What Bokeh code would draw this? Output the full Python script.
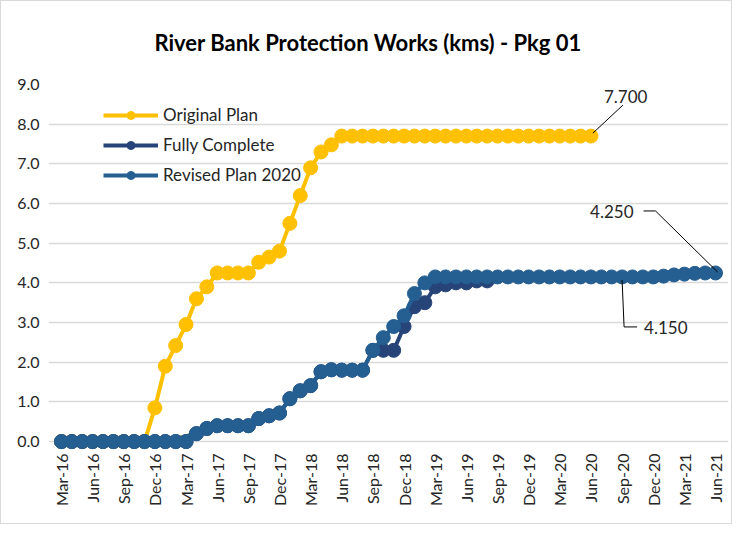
import math
from bokeh.plotting import figure
from bokeh.models import FixedTicker, Label, Range1d, Legend, LegendItem
from bokeh.embed import file_html
from bokeh.resources import INLINE

# ---------------- data ----------------
tick_positions = [0, 3, 6, 9, 12, 15, 18, 21, 24, 27, 30, 33, 36, 39, 42, 45, 48, 51, 54, 57, 60, 63]
tick_labels = ["Mar-16", "Jun-16", "Sep-16", "Dec-16", "Mar-17", "Jun-17", "Sep-17", "Dec-17",
               "Mar-18", "Jun-18", "Sep-18", "Dec-18", "Mar-19", "Jun-19", "Sep-19", "Dec-19",
               "Mar-20", "Jun-20", "Sep-20", "Dec-20", "Mar-21", "Jun-21"]

original_plan = [0, 0, 0, 0, 0, 0, 0, 0, 0,
                 0.85, 1.9, 2.42, 2.95, 3.6, 3.9, 4.25, 4.25, 4.25, 4.25, 4.52, 4.65, 4.8,
                 5.5, 6.2, 6.9, 7.3, 7.48,
                 7.7, 7.7, 7.7, 7.7, 7.7, 7.7, 7.7, 7.7, 7.7, 7.7, 7.7, 7.7, 7.7, 7.7,
                 7.7, 7.7, 7.7, 7.7, 7.7, 7.7, 7.7, 7.7, 7.7, 7.7, 7.7]

revised_plan = [0, 0, 0, 0, 0, 0, 0, 0, 0, 0, 0, 0, 0,
                0.2, 0.33, 0.4, 0.4, 0.4, 0.4, 0.58, 0.65, 0.72, 1.08, 1.28, 1.41, 1.76,
                1.81, 1.8, 1.8, 1.8, 2.3, 2.62, 2.9, 3.17, 3.73, 4.0,
                4.15, 4.15, 4.15, 4.15, 4.15, 4.15, 4.15, 4.15, 4.15, 4.15, 4.15, 4.15,
                4.15, 4.15, 4.15, 4.15, 4.15, 4.15, 4.15, 4.15, 4.15, 4.15,
                4.17, 4.2, 4.22, 4.24, 4.25, 4.25]

fully_complete = [0, 0, 0, 0, 0, 0, 0, 0, 0, 0, 0, 0, 0,
                  0.2, 0.33, 0.4, 0.4, 0.4, 0.4, 0.58, 0.65, 0.72, 1.08, 1.28, 1.41, 1.76,
                  1.81, 1.8, 1.8, 1.8, 2.3, 2.3, 2.3, 2.9, 3.4, 3.5, 3.9, 3.95, 4.0, 4.0,
                  4.05, 4.05]

actual_start = 8
actual = [0, 0.05, 0.07, 0.09, 0.12, 0.25]

ann_original = "7.700"
ann_revised_end = "4.250"
ann_revised_mid = "4.150"
ann_mid_index = 54

# ---------------- figure ----------------
YELLOW = "#FFC000"
NAVY = "#264478"
BLUE = "#255E91"
GREEN = "#5E8E3E"
FONT = "Lato"
TXT = "#262626"

p = figure(width=732, height=524, output_backend="svg", toolbar_location=None,
           x_range=Range1d(-1.25, 64.25), y_range=Range1d(-0.25, 9.0),
           min_border_left=47, min_border_right=5, min_border_top=83, min_border_bottom=74)
p.styles = {"border": "1px solid #D9D9D9", "box-sizing": "border-box"}

p.title.text = "River Bank Protection Works (kms) - Pkg 01"
p.title.text_font = FONT
p.title.text_font_size = "22px"
p.title.text_font_style = "bold"
p.title.text_color = "#000000"
p.title.align = "left"
p.title.offset = 106
p.title.vertical_align = "top"
p.title.standoff = 54

p.outline_line_color = None
p.background_fill_color = "white"
p.border_fill_color = "white"

p.xgrid.grid_line_color = None
p.ygrid.grid_line_color = "#D9D9D9"
p.ygrid.grid_line_width = 1.5
p.ygrid.ticker = FixedTicker(ticks=list(range(0, 10)))

p.yaxis.ticker = FixedTicker(ticks=list(range(0, 10)))
p.yaxis.major_label_overrides = {i: f"{i:.1f}" for i in range(0, 10)}
p.yaxis.axis_line_color = None
p.yaxis.major_tick_line_color = None
p.yaxis.minor_tick_line_color = None
p.yaxis.major_tick_out = 0
p.yaxis.major_label_standoff = 9
p.yaxis.major_label_text_font = FONT
p.yaxis.major_label_text_font_size = "16px"
p.yaxis.major_label_text_color = TXT

p.xaxis.ticker = FixedTicker(ticks=tick_positions)
p.xaxis.major_label_overrides = {t: l for t, l in zip(tick_positions, tick_labels)}
p.xaxis.major_label_orientation = math.pi / 2
p.xaxis.axis_line_color = None
p.xaxis.major_tick_line_color = None
p.xaxis.minor_tick_line_color = None
p.xaxis.major_tick_out = 0
p.xaxis.major_label_standoff = 2
p.xaxis.major_label_text_font = FONT
p.xaxis.major_label_text_font_size = "16px"
p.xaxis.major_label_text_color = TXT

xs_orig = list(range(len(original_plan)))
xs_rev = list(range(len(revised_plan)))
xs_fc = list(range(len(fully_complete)))
xs_act = list(range(actual_start, actual_start + len(actual)))

MS = 14
LW = 4

p.line(xs_act, actual, line_color=GREEN, line_width=LW)

r_o1 = p.line(xs_orig, original_plan, line_color=YELLOW, line_width=LW)
r_o2 = p.scatter(xs_orig, original_plan, size=MS, fill_color=YELLOW, line_color=YELLOW)
r_f1 = p.line(xs_fc, fully_complete, line_color=NAVY, line_width=LW)
r_f2 = p.scatter(xs_fc, fully_complete, size=MS, fill_color=NAVY, line_color=NAVY)
r_r1 = p.line(xs_rev, revised_plan, line_color=BLUE, line_width=LW)
r_r2 = p.scatter(xs_rev, revised_plan, size=MS, fill_color=BLUE, line_color=BLUE)

legend = Legend(items=[
    LegendItem(label="Original Plan", renderers=[r_o1, r_o2]),
    LegendItem(label="Fully Complete", renderers=[r_f1, r_f2]),
    LegendItem(label="Revised Plan 2020", renderers=[r_r1, r_r2]),
], location=(55, 266))
legend.border_line_color = None
legend.background_fill_alpha = 0
legend.padding = 0
legend.margin = 0
legend.spacing = 9
legend.glyph_width = 55
legend.glyph_height = 20
legend.label_height = 20
legend.label_standoff = 5
legend.label_text_font = FONT
legend.label_text_font_size = "17px"
legend.label_text_color = TXT
p.add_layout(legend)

# ---------------- data labels with leader lines ----------------
PX_X = 65.5 / 680.0   # data units per pixel (x)
PX_Y = 9.25 / 367.0   # data units per pixel (y)

ix_o = len(original_plan) - 1
yo = original_plan[ix_o]
p.line([ix_o + 2 * PX_X, ix_o + 32 * PX_X], [yo + 3 * PX_Y, yo + 31 * PX_Y], line_color="#000000", line_width=1)
p.add_layout(Label(x=ix_o, y=yo, x_offset=13, y_offset=33, text=ann_original,
                   text_font=FONT, text_font_size="17px", text_color=TXT,
                   text_baseline="bottom", text_align="left"))

ix_r = len(revised_plan) - 1
yr = revised_plan[ix_r]
p.line([ix_r - 72 * PX_X, ix_r - 60 * PX_X, ix_r + 2 * PX_X],
       [yr + 62 * PX_Y, yr + 62 * PX_Y, yr + 1 * PX_Y], line_color="#000000", line_width=1)
p.add_layout(Label(x=ix_r, y=yr, x_offset=-82, y_offset=61, text=ann_revised_end,
                   text_font=FONT, text_font_size="17px", text_color=TXT,
                   text_baseline="middle", text_align="right"))

ym = revised_plan[ann_mid_index]
p.line([ann_mid_index, ann_mid_index + 2 * PX_X, ann_mid_index + 15 * PX_X],
       [ym - 3 * PX_Y, ym - 50 * PX_Y, ym - 50 * PX_Y], line_color="#000000", line_width=1)
p.add_layout(Label(x=ann_mid_index, y=ym, x_offset=22, y_offset=-51, text=ann_revised_mid,
                   text_font=FONT, text_font_size="17px", text_color=TXT,
                   text_baseline="middle", text_align="left"))

open("out.html", "w").write(file_html(p, INLINE))
